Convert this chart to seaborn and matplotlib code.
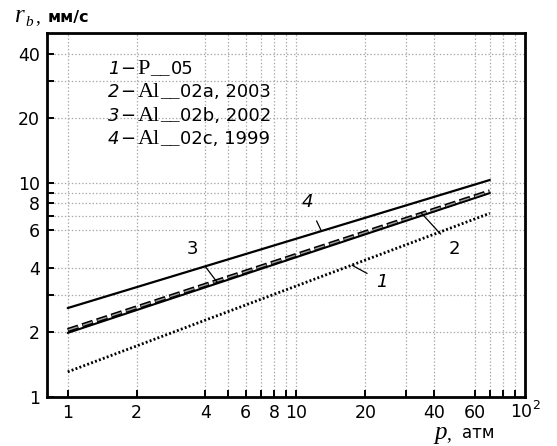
import numpy as np
import pandas as pd
import matplotlib
matplotlib.use("Agg")
import matplotlib.pyplot as plt
import matplotlib.ticker as mticker
import seaborn as sns

# data (straight lines on log-log axes)
p_atm = [1, 70]
rb_1 = [1.31, 7.2]    # P_05, dotted
rb_2 = [2.05, 9.1]    # Al_02a 2003, dashed
rb_3 = [1.99, 8.95]   # Al_02b 2002, solid
rb_4 = [2.6, 10.3]    # Al_02c 1999, solid

x_ticks = [1, 2, 4, 5, 6, 7, 8, 9, 10, 20, 30, 40, 60, 70, 80, 90]
x_labels = ['1', '2', '4', '', '6', '', '8', '', '10', '20', '', '40', '60', '', '', '']
y_ticks = [1, 2, 3, 4, 6, 7, 8, 9, 10, 20, 30, 40]
y_labels = ['1', '2', '', '4', '6', '', '8', '', '10', '20', '', '40']

legend_num = ['1', '2', '3', '4']
legend_name = ['P', 'Al', 'Al', 'Al']
legend_rest = ['05', '02a, 2003', '02b, 2002', '02c, 1999']

sns.set_theme(style="white")
plt.rcParams['font.family'] = ['DejaVu Sans']
plt.rcParams['text.color'] = 'black'
plt.rcParams['lines.scale_dashes'] = False

W, H = 557, 446
fig = plt.figure(figsize=(W / 100, H / 100), dpi=100)
ax = fig.add_axes([0.084, 0.110, 0.859, 0.816])
renderer = fig.canvas.get_renderer()

df = pd.DataFrame({'p': p_atm * 4,
                   'rb': rb_1 + rb_2 + rb_3 + rb_4,
                   'curve': ['1'] * 2 + ['2'] * 2 + ['3'] * 2 + ['4'] * 2})

sns.lineplot(data=df[df.curve == '1'], x='p', y='rb', ax=ax, color='black',
             linewidth=2.0, linestyle=(0, (1.4, 1.6)), legend=False)
sns.lineplot(data=df[df.curve == '3'], x='p', y='rb', ax=ax, color='black',
             linewidth=1.5, legend=False)
sns.lineplot(data=df[df.curve == '4'], x='p', y='rb', ax=ax, color='black',
             linewidth=1.6, legend=False)
# dashed curve 2: black outlined grey dashes
sns.lineplot(data=df[df.curve == '2'], x='p', y='rb', ax=ax, color='black',
             linewidth=3.2, linestyle=(0, (8, 3)), legend=False)
sns.lineplot(data=df[df.curve == '2'], x='p', y='rb', ax=ax, color='#a0a0a0',
             linewidth=1.0, linestyle=(10.5, (7, 4)), legend=False)

ax.set_xscale('log')
ax.set_yscale('log')
ax.set_xlim(0.81, 100)
ax.set_ylim(1, 50)

ax.xaxis.set_major_locator(mticker.FixedLocator(x_ticks))
ax.xaxis.set_major_formatter(mticker.FixedFormatter(x_labels))
ax.yaxis.set_major_locator(mticker.FixedLocator(y_ticks))
ax.yaxis.set_major_formatter(mticker.FixedFormatter(y_labels))
ax.xaxis.set_minor_locator(mticker.NullLocator())
ax.yaxis.set_minor_locator(mticker.NullLocator())
ax.tick_params(direction='in', length=5, width=1.4, labelsize=12.5,
               color='black', labelcolor='black', bottom=True, left=True)
ax.tick_params(axis='x', pad=5)
ax.tick_params(axis='y', pad=5)

ax.grid(True, which='major', color='#a8a8a8', lw=0.9, ls=(0, (1, 1.5)))
for s in ax.spines.values():
    s.set_color('black')
    s.set_linewidth(2)
ax.set_xlabel('')
ax.set_ylabel('')


def put(x_px, y_px, s, **kw):
    return fig.text(x_px / W, 1 - y_px / H, s, va='baseline', ha='left', **kw)


def chain(x_px, y_px, pieces):
    for s, kw, gap in pieces:
        t = put(x_px, y_px, s, **kw)
        x_px = t.get_window_extent(renderer).x1 * 100 / fig.dpi + gap


sans = dict(family='DejaVu Sans', fontsize=13)
serif = dict(family='Liberation Serif', fontsize=16)

# legend block
for i in range(4):
    chain(108, 74 + i * 23.3, [
        (legend_num[i], dict(sans, style='italic'), 1),
        ('\u2212', sans, 2),
        (legend_name[i], serif, 0),
        ('__', dict(serif, fontsize=14), 1),
        (legend_rest[i], sans, 0)])

# 10^2 label at the right end of the x axis
chain(510, 417, [('10', dict(family='DejaVu Sans', fontsize=12.5), 0.5),
                 ('2', dict(family='DejaVu Sans', fontsize=9), 0)])
fig.texts[-1].set_y(1 - 409 / H)

# curve labels with leaders
ann = dict(fontsize=13, ha='center', va='center',
           arrowprops=dict(arrowstyle='-', color='black', lw=0.9, shrinkA=5, shrinkB=0))
ax.annotate('4', xy=(12.8, 6.0), xytext=(11.2, 8.1), style='italic', **ann)
ax.annotate('3', xy=(4.5, 3.43), xytext=(3.5, 4.9), **ann)
ax.annotate('2', xy=(35, 7.25), xytext=(49, 4.9), **ann)
ax.annotate('1', xy=(17.5, 4.12), xytext=(23.7, 3.45), style='italic', **ann)

# axis titles
put(15, 22, 'r', family='Liberation Serif', style='italic', fontsize=18)
put(25, 26, 'b', family='Liberation Serif', style='italic', fontsize=11)
put(35, 22, ',', family='Liberation Serif', fontsize=14)
put(48, 22, 'мм/с', family='DejaVu Sans', fontsize=11.5, fontweight='bold')

put(434, 439, 'p', family='Liberation Serif', style='italic', fontsize=18)
put(446, 439, ',', family='Liberation Serif', fontsize=14)
put(462, 438, 'атм', family='DejaVu Sans', fontsize=12)

fig.savefig('out.png', dpi=100)
